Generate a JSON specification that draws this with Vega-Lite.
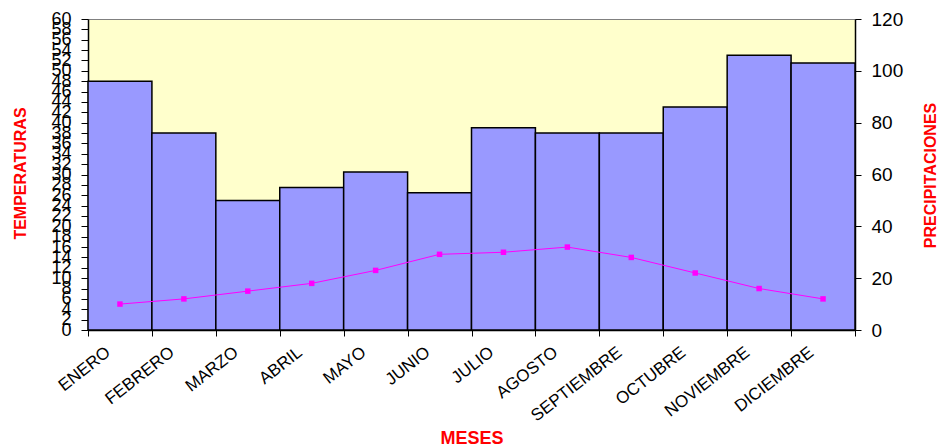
{
  "$schema": "https://vega.github.io/schema/vega-lite/v6.json",
  "autosize": "none",
  "width": 767,
  "height": 311,
  "padding": {"left": 88, "top": 19, "right": 84, "bottom": 116},
  "background": "white",
  "config": {
    "view": {"fill": "#FFFFCC", "stroke": "#808080", "strokeWidth": 1},
    "font": "Liberation Sans"
  },
  "data": {
    "values": [
      {"mes": "ENERO", "temp": 5.0, "precip": 96},
      {"mes": "FEBRERO", "temp": 6.0, "precip": 76},
      {"mes": "MARZO", "temp": 7.5, "precip": 50},
      {"mes": "ABRIL", "temp": 9.0, "precip": 55},
      {"mes": "MAYO", "temp": 11.5, "precip": 61},
      {"mes": "JUNIO", "temp": 14.6, "precip": 53},
      {"mes": "JULIO", "temp": 15.0, "precip": 78},
      {"mes": "AGOSTO", "temp": 16.0, "precip": 76},
      {"mes": "SEPTIEMBRE", "temp": 14.0, "precip": 76},
      {"mes": "OCTUBRE", "temp": 11.0, "precip": 86},
      {"mes": "NOVIEMBRE", "temp": 8.0, "precip": 106},
      {"mes": "DICIEMBRE", "temp": 6.0, "precip": 103}
    ]
  },
  "encoding": {
    "x": {
      "field": "mes",
      "type": "nominal",
      "sort": null,
      "scale": {"paddingInner": 0, "paddingOuter": 0},
      "axis": {
        "title": "MESES",
        "titleColor": "#FF0000",
        "titleFont": "Liberation Sans",
        "titleFontSize": 18,
        "titleFontWeight": "bold",
        "titleY": 113,
        "titleBaseline": "alphabetic",
        "labelAngle": -38,
        "labelAlign": "right",
        "labelBaseline": "middle",
        "labelFontSize": 17,
        "labelColor": "#000000",
        "labelPadding": 14,
        "labelOffset": -12,
        "tickBand": "extent",
        "tickSize": 6,
        "tickColor": "#000000",
        "domainColor": "#000000",
        "domainWidth": 1.5,
        "labelOverlap": false
      }
    }
  },
  "layer": [
    {
      "mark": {"type": "bar", "fill": "#9999FF", "stroke": "#000000", "strokeWidth": 1.5},
      "encoding": {
        "y": {
          "field": "precip",
          "type": "quantitative",
          "scale": {"domain": [0, 120]},
          "axis": {
            "orient": "right",
            "title": "PRECIPITACIONES",
            "titleColor": "#FF0000",
            "titleFontSize": 16,
            "titleFontWeight": "bold",
            "titleAngle": -90,
            "titleX": 75,
            "titleY": 156,
            "titleAlign": "center",
            "titleBaseline": "middle",
            "values": [0, 20, 40, 60, 80, 100, 120],
            "labelFontSize": 19,
            "labelColor": "#000000",
            "labelPadding": 10,
            "tickSize": 6,
            "tickColor": "#000000",
            "domainColor": "#000000",
            "domainWidth": 1.5,
            "grid": false
          }
        }
      }
    },
    {
      "mark": {"type": "line", "color": "#FF00FF", "strokeWidth": 1, "point": {"shape": "square", "size": 30, "filled": true, "color": "#FF00FF"}},
      "encoding": {
        "y": {
          "field": "temp",
          "type": "quantitative",
          "scale": {"domain": [0, 60]},
          "axis": {
            "orient": "left",
            "title": "TEMPERATURAS",
            "titleColor": "#FF0000",
            "titleFontSize": 16,
            "titleFontWeight": "bold",
            "titleAngle": -90,
            "titleX": -68,
            "titleY": 154,
            "titleAlign": "center",
            "titleBaseline": "middle",
            "values": [0, 2, 4, 6, 8, 10, 12, 14, 16, 18, 20, 22, 24, 26, 28, 30, 32, 34, 36, 38, 40, 42, 44, 46, 48, 50, 52, 54, 56, 58, 60],
            "labelOverlap": false,
            "labelFontSize": 18,
            "labelColor": "#000000",
            "labelPadding": 10,
            "tickSize": 7,
            "tickColor": "#000000",
            "domainColor": "#000000",
            "domainWidth": 1.5,
            "grid": false
          }
        }
      }
    }
  ],
  "resolve": {"scale": {"y": "independent"}}
}
